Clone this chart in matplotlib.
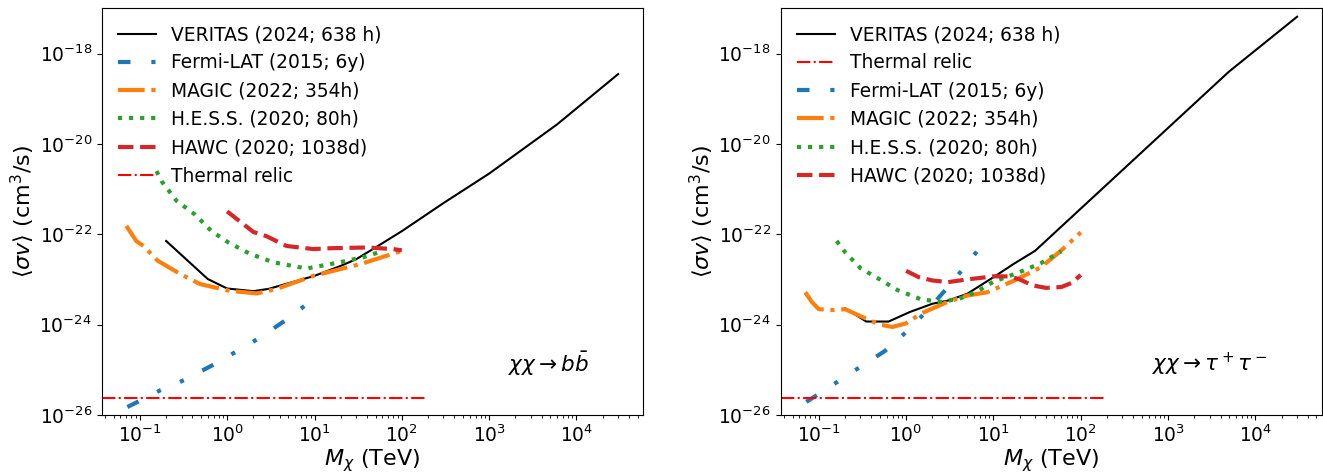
import numpy as np
import matplotlib
matplotlib.use("Agg")
import matplotlib.pyplot as plt
from matplotlib.ticker import NullLocator, FixedLocator

plt.rcParams['font.size'] = 13.4

# ---- chi chi -> b bbar ----
ver_bb_m = [0.2, 0.6, 1.0, 2.0, 3.0, 10, 20, 30, 50, 100, 300, 1000, 6000, 30000]
ver_bb_sv = [7.1e-23, 1.02e-23, 6.3e-24, 5.5e-24, 6.2e-24, 1.2e-23, 2.0e-23, 2.8e-23,
             5.1e-23, 1.17e-22, 4.9e-22, 2.2e-21, 2.7e-20, 3.5e-19]

fermi_bb_m = [0.072, 0.17, 0.32, 0.66, 1.3, 2.4, 4.6, 8.9, 10]
fermi_bb_sv = [1.5e-26, 3.5e-26, 5.9e-26, 1.23e-25, 2.6e-25, 5.2e-25, 1.23e-24, 3.2e-24, 3.7e-24]

magic_bb_m = [0.07, 0.091, 0.11, 0.16, 0.29, 0.49, 1.07, 2.2, 3.7, 9.7, 34, 100]
magic_bb_sv = [1.53e-22, 7.1e-23, 5.5e-23, 2.6e-23, 1.32e-23, 7.9e-24, 5.6e-24, 4.9e-24,
               6.2e-24, 1.2e-23, 2.2e-23, 4.3e-23]

hess_bb_m = [0.155, 0.177, 0.263, 0.426, 0.662, 1.03, 1.82, 3.37, 8.1, 19.5, 36, 62]
hess_bb_sv = [2.5e-21, 1.5e-21, 5.5e-22, 2.75e-22, 1.17e-22, 6.6e-23, 3.7e-23, 2.4e-23,
              1.74e-23, 2.4e-23, 3.1e-23, 4.3e-23]

hawc_bb_m = [1.0, 2.0, 2.8, 4.8, 9.7, 15, 40, 80, 100]
hawc_bb_sv = [3.2e-22, 1.12e-22, 9.1e-23, 5.5e-23, 4.7e-23, 4.9e-23, 5.1e-23, 4.7e-23, 4.4e-23]

# ---- chi chi -> tau+ tau- ----
ver_tt_m = [0.2, 0.35, 0.63, 1.1, 2.0, 3.0, 5.0, 10, 17, 30, 5000, 30000]
ver_tt_sv = [2.3e-24, 1.17e-24, 1.17e-24, 1.9e-24, 2.9e-24, 3.4e-24, 4.8e-24, 1.12e-23,
             2.2e-23, 4.3e-23, 4.0e-19, 6.5e-18]

fermi_tt_m = [0.072, 0.163, 0.29, 0.57, 1.03, 1.68, 2.9, 4.8, 7.4]
fermi_tt_sv = [1.95e-26, 5.4e-26, 1.12e-25, 2.6e-25, 7.2e-25, 1.9e-24, 6.2e-24, 2.0e-23,
               5.8e-23]

magic_tt_m = [0.07, 0.083, 0.1, 0.15, 0.2, 0.35, 0.5, 0.7, 1.0, 1.5, 3.0, 5.0, 8.5, 17, 35, 60, 100]
magic_tt_sv = [5.2e-24, 3.2e-24, 2.2e-24, 2.1e-24, 2.2e-24, 1.35e-24, 1.0e-24, 8.9e-25,
               1.07e-24, 1.78e-24, 3.2e-24, 4.4e-24, 5.2e-24, 9.3e-24, 1.86e-23, 4.4e-23, 1.1e-22]

hess_tt_m = [0.16, 0.2, 0.3, 0.5, 0.8, 1.5, 2.5, 4.0, 6.5, 10, 20, 35, 60]
hess_tt_sv = [7.1e-23, 4.0e-23, 1.78e-23, 1.0e-23, 5.8e-24, 3.6e-24, 3.2e-24, 3.7e-24,
              5.4e-24, 8.9e-24, 1.45e-23, 2.3e-23, 4.2e-23]

hawc_tt_m = [1.0, 1.4, 2.0, 3.0, 5.0, 10, 15, 20, 28, 40, 60, 80, 100]
hawc_tt_sv = [1.55e-23, 1.12e-23, 9.5e-24, 8.7e-24, 1.0e-23, 1.17e-23, 1.17e-23, 1.0e-23,
              7.4e-24, 6.5e-24, 6.8e-24, 8.5e-24, 1.26e-23]

thermal = 2.4e-26
y_ticks = [1e-26, 1e-24, 1e-22, 1e-20, 1e-18]

labels = {
    'ver': 'VERITAS (2024; 638 h)',
    'fermi': 'Fermi-LAT (2015; 6y)',
    'magic': 'MAGIC (2022; 354h)',
    'hess': 'H.E.S.S. (2020; 80h)',
    'hawc': 'HAWC (2020; 1038d)',
    'th': 'Thermal relic',
}

fig, axes = plt.subplots(1, 2, figsize=(13.23, 4.75), dpi=100)
plt.subplots_adjust(left=0.0769, right=0.999, bottom=0.1263, top=0.9825, wspace=0.255)


def draw(ax, ver, fermi, magic, hess, hawc, order, text):
    h = {}
    h['ver'], = ax.plot(ver[0], ver[1], color='black', lw=1.5, label=labels['ver'])
    h['fermi'], = ax.plot(fermi[0], fermi[1], color='tab:blue', lw=3,
                          linestyle=(0, (3, 5, 1, 5, 1, 5)), label=labels['fermi'])
    h['magic'], = ax.plot(magic[0], magic[1], color='tab:orange', lw=3, linestyle='-.',
                          label=labels['magic'])
    h['hess'], = ax.plot(hess[0], hess[1], color='tab:green', lw=3, linestyle=':',
                         label=labels['hess'])
    h['hawc'], = ax.plot(hawc[0], hawc[1], color='tab:red', lw=3, linestyle='--',
                         label=labels['hawc'])
    h['th'] = ax.axhline(thermal, xmax=0.6, color='red', lw=1.5, linestyle='-.',
                         label=labels['th'])
    ax.set_xscale('log')
    ax.set_yscale('log')
    ax.set_ylim(1e-26, 1e-17)
    ax.yaxis.set_major_locator(FixedLocator(y_ticks))
    ax.yaxis.set_minor_locator(NullLocator())
    ax.set_xlabel(r'$M_\chi$ (TeV)', fontsize=16, labelpad=1)
    ax.set_ylabel(r'$\langle\sigma v\rangle$ (cm$^3$/s)', fontsize=16, labelpad=2)
    ax.legend([h[k] for k in order], [labels[k] for k in order], loc='upper left',
              frameon=False)
    ax.text(0.9, 0.09, text, transform=ax.transAxes, ha='right', va='bottom', fontsize=15.5)


draw(axes[0], (ver_bb_m, ver_bb_sv), (fermi_bb_m, fermi_bb_sv), (magic_bb_m, magic_bb_sv),
     (hess_bb_m, hess_bb_sv), (hawc_bb_m, hawc_bb_sv),
     ['ver', 'fermi', 'magic', 'hess', 'hawc', 'th'], r'$\chi\chi\rightarrow b\bar{b}$')
draw(axes[1], (ver_tt_m, ver_tt_sv), (fermi_tt_m, fermi_tt_sv), (magic_tt_m, magic_tt_sv),
     (hess_tt_m, hess_tt_sv), (hawc_tt_m, hawc_tt_sv),
     ['ver', 'th', 'fermi', 'magic', 'hess', 'hawc'], r'$\chi\chi\rightarrow\tau^+\tau^-$')

fig.savefig('out.png', dpi=100)
